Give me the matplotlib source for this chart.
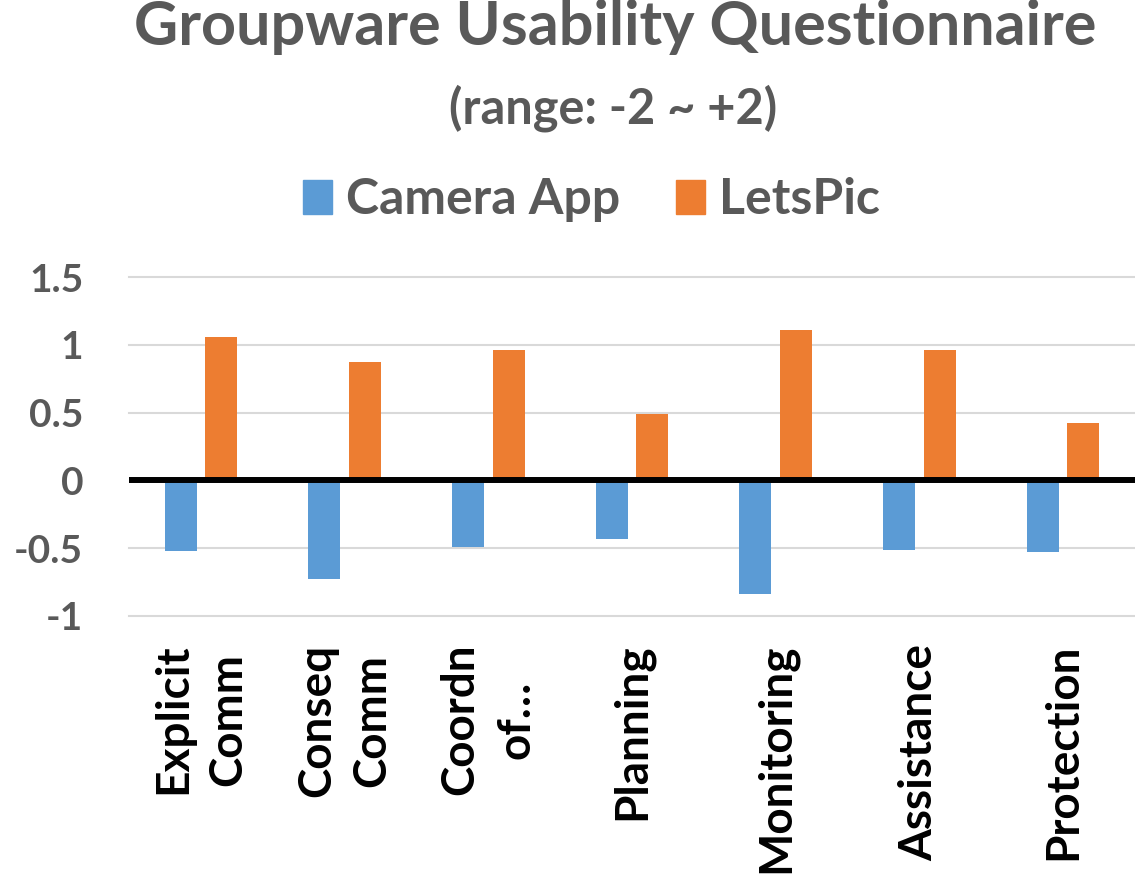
import numpy as np
import matplotlib
matplotlib.use("Agg")
import matplotlib.pyplot as plt
from matplotlib.patches import Patch

categories = ["Explicit\nComm", "Conseq\nComm", "Coordn\nof…", "Planning",
              "Monitoring", "Assistance", "Protection"]
camera_app = [-0.52, -0.73, -0.49, -0.43, -0.84, -0.51, -0.53]
letspic = [1.055, 0.87, 0.965, 0.49, 1.11, 0.965, 0.425]
yticks = [-1, -0.5, 0, 0.5, 1, 1.5]
ytick_labels = ["-1", "-0.5", "0", "0.5", "1", "1.5"]

BLUE = "#5B9BD5"
ORANGE = "#ED7D31"
GRAY = "#595959"
FONT = ["Lato", "DejaVu Sans"]

plt.rcParams["font.family"] = FONT
plt.rcParams["font.weight"] = "bold"

fig = plt.figure(figsize=(11.35, 8.8), dpi=100)
ax = fig.add_axes([129 / 1135, 1 - 616 / 880, 1 - 129 / 1135, (616 - 277) / 880])

x = np.arange(len(categories))
w = 0.223
off = 0.141
ax.bar(x - off, camera_app, w, color=BLUE, zorder=2)
ax.bar(x + off, letspic, w, color=ORANGE, zorder=2)

ax.set_xlim(-0.5, len(categories) - 0.5)
ax.set_ylim(-1, 1.5)
ax.set_yticks(yticks)
ax.set_yticklabels(ytick_labels, fontsize=28, color=GRAY, fontweight="bold")
for y in yticks:
    if y != 0:
        ax.axhline(y, color="#D9D9D9", lw=1.5, zorder=1, clip_on=False)
ax.axhline(0, color="black", lw=4.3, zorder=3)
ax.tick_params(axis="y", length=0, pad=33)
ax.tick_params(axis="x", length=0, pad=20)
ax.set_xticks(x)
ax.set_xticklabels(categories, rotation=90, fontsize=33, fontweight="bold",
                   color="black", va="top", ha="center", linespacing=1.4)
for s in ax.spines.values():
    s.set_visible(False)

fig.text(0.542, 1 - 45 / 880, "Groupware Usability Questionnaire", ha="center",
         va="baseline", fontsize=44, color=GRAY, fontweight="bold")
fig.text(0.54, 1 - 123 / 880, "(range: -2 ~ +2)", ha="center",
         va="baseline", fontsize=35, color=GRAY, fontweight="bold")

handles = [Patch(color=BLUE, label="Camera App"), Patch(color=ORANGE, label="LetsPic")]
fig.legend(handles=handles, loc="center", bbox_to_anchor=(0.521, 1 - 200 / 880), ncol=2,
           frameon=False, labelcolor=GRAY, handlelength=0.58,
           handleheight=0.68, handletextpad=0.28, columnspacing=1.12,
           prop={"weight": "bold", "size": 36})

fig.savefig("out.png", dpi=100)
